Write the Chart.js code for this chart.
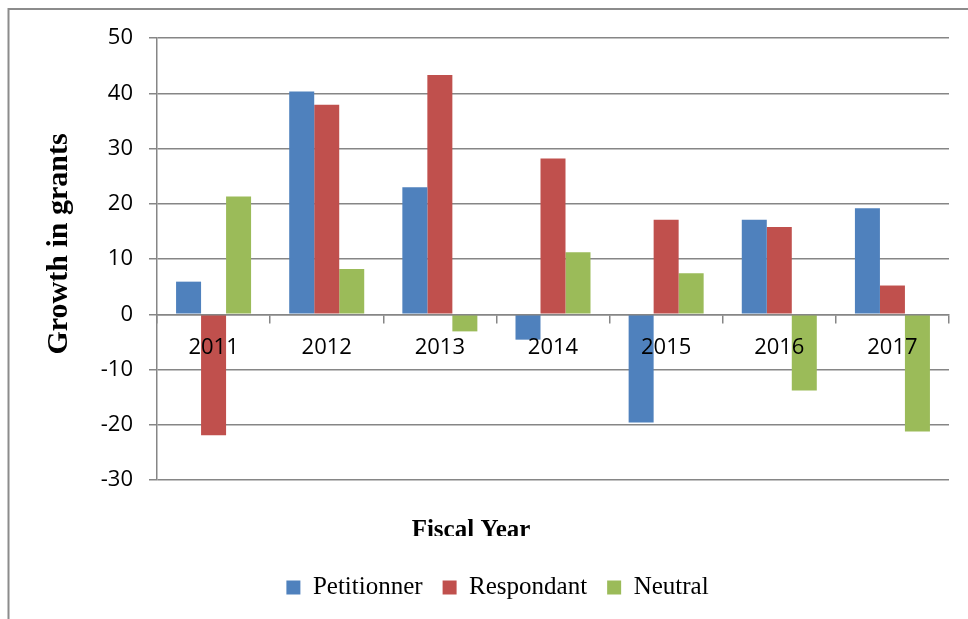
<!doctype html>
<meta charset="utf-8">
<style>
    html, body { margin: 0; padding: 0; background: #fff; }
</style>

<canvas id="chart" width="968" height="619"></canvas>

<script src="https://cdn.jsdelivr.net/npm/chart.js@4.4.8/dist/chart.umd.min.js"></script>
<script>
    // values
    const years = ["2011", "2012", "2013", "2014", "2015", "2016", "2017"];
    const petitionner = [5.9, 40.3, 23.0, -4.6, -19.6, 17.1, 19.2];
    const respondant = [-21.9, 37.9, 43.3, 28.2, 17.1, 15.8, 5.2];
    const neutral = [21.3, 8.2, -3.1, 11.2, 7.4, -13.8, -21.2];
    const yMin = -30, yMax = 50, yStep = 10;

    const gridColor = "#868686";
    const tickFont = {family: "'Open Sans', sans-serif", size: 22};

    // frame round the chart and the two axis titles
    const decor = {
        id: "decor",
        beforeDraw(chart) {
            const ctx = chart.ctx;
            ctx.save();
            ctx.strokeStyle = "#8c8c8c";
            ctx.lineWidth = 2;
            ctx.beginPath();
            ctx.moveTo(968, 9);
            ctx.lineTo(8.5, 9);
            ctx.lineTo(8.5, 619);
            ctx.stroke();
            ctx.restore();
        },
        afterDraw(chart) {
            const ctx = chart.ctx;
            ctx.save();
            ctx.fillStyle = "#000";
            ctx.font = "bold 30px 'Liberation Serif', serif";
            ctx.textAlign = "center";
            ctx.textBaseline = "middle";
            ctx.translate(59, 244);
            ctx.rotate(-Math.PI / 2);
            ctx.fillText("Growth in grants", 0, 0);
            ctx.restore();

            ctx.save();
            ctx.beginPath();
            ctx.rect(0, 500, 968, 36);
            ctx.clip();
            ctx.fillStyle = "#000";
            ctx.font = "bold 25px 'Liberation Serif', serif";
            ctx.textAlign = "center";
            ctx.textBaseline = "alphabetic";
            ctx.fillText("Fiscal Year", 471, 537);
            ctx.restore();
        }
    };

    new Chart(document.getElementById("chart"), {
        type: "bar",
        plugins: [decor],
        data: {
            labels: years,
            datasets: [{
                label: "Petitionner",
                backgroundColor: "#4F81BD",
                borderWidth: 0,
                data: petitionner
            }, {
                label: "Respondant",
                backgroundColor: "#C0504D",
                borderWidth: 0,
                data: respondant
            }, {
                label: "Neutral",
                backgroundColor: "#9BBB59",
                borderWidth: 0,
                data: neutral
            }]
        },
        options: {
            responsive: false,
            animation: false,
            categoryPercentage: 0.663,
            barPercentage: 1,
            layout: {
                padding: {left: 46, right: 19, top: 38, bottom: 9}
            },
            scales: {
                x: {
                    position: {y: 0},
                    offset: true,
                    grid: {
                        offset: true,
                        drawOnChartArea: false,
                        drawTicks: true,
                        tickLength: 8,
                        color: gridColor,
                        lineWidth: 1.5,
                        z: 1
                    },
                    border: {display: true, color: gridColor, width: 1.5, z: 1},
                    ticks: {font: tickFont, color: "#000", padding: 12, z: 1}
                },
                y: {
                    min: yMin,
                    max: yMax,
                    afterFit(scale) {
                        scale.width = 111;
                    },
                    grid: {
                        color: gridColor,
                        lineWidth: 1.5,
                        tickLength: 8
                    },
                    border: {display: true, color: gridColor, width: 1.5},
                    ticks: {stepSize: yStep, font: tickFont, color: "#000", padding: 16}
                }
            },
            plugins: {
                tooltip: {enabled: false},
                legend: {
                    position: "bottom",
                    title: {
                        display: true,
                        text: " ",
                        font: {size: 10},
                        padding: {top: 63, bottom: 0}
                    },
                    labels: {
                        boxWidth: 14,
                        boxHeight: 14,
                        padding: 20,
                        color: "#000",
                        font: {family: "'Liberation Serif', serif", size: 25}
                    }
                }
            }
        }
    });
</script>
